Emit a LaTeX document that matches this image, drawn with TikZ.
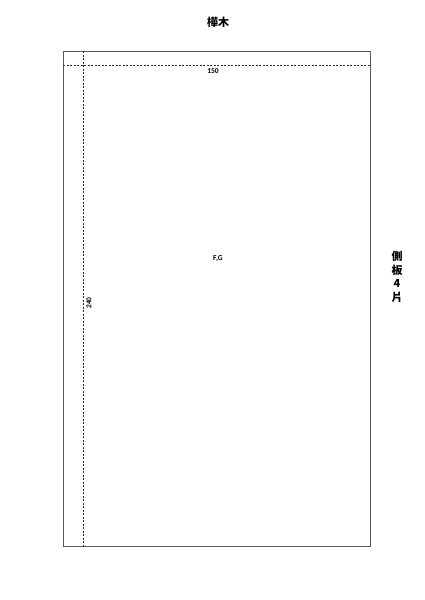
\documentclass[tikz,border=0pt]{standalone}
\usepackage{fontspec}
\usepackage{tikz}
\setmainfont{Carlito}
\newfontfamily\cjk{Noto Sans CJK TC}
\usetikzlibrary{positioning, calc}
\definecolor{lineagrigia}{RGB}{90,90,90}

\begin{document}
\begin{tikzpicture}[x=1pt,y=-1pt]
    \useasboundingbox (0,0) rectangle (425,600);
    \tikzset{
        quota/.style={draw=black!85,dash pattern=on 2pt off 1.5pt,line width=0.8pt},
        misura/.style={font=\bfseries\fontsize{7.5}{8}\selectfont},
        titolo/.style={font=\cjk\bfseries\fontsize{11}{12}\selectfont}
    }
    % Pannello
    \node[rectangle,draw=lineagrigia,line width=0.9pt,minimum width=307pt,minimum height=495pt,anchor=north west,inner sep=0pt] (pannello) at (63,51) {};
    \node[titolo] (legno) at (218,22) {樺木};
    \node[misura] (pezzi) at (218,259) {F,G};
    \node[titolo,align=center,font=\cjk\bfseries\fontsize{11}{13.5}\selectfont] (lato) at (397,277) {側\\板\\4\\片};

    % Quote
    \coordinate (qsx) at (63,65);
    \coordinate (qdx) at (370,65);
    \coordinate (qalto) at (83,51);
    \coordinate (qbasso) at (83,548);
    \draw[quota] (qsx) -- (qdx);
    \draw[quota] (qalto) -- (qbasso);
    \node[misura] (larghezza) at (213,71) {150};
    \node[misura,rotate=90] (altezza) at (89,303) {240};
\end{tikzpicture}
\end{document}
